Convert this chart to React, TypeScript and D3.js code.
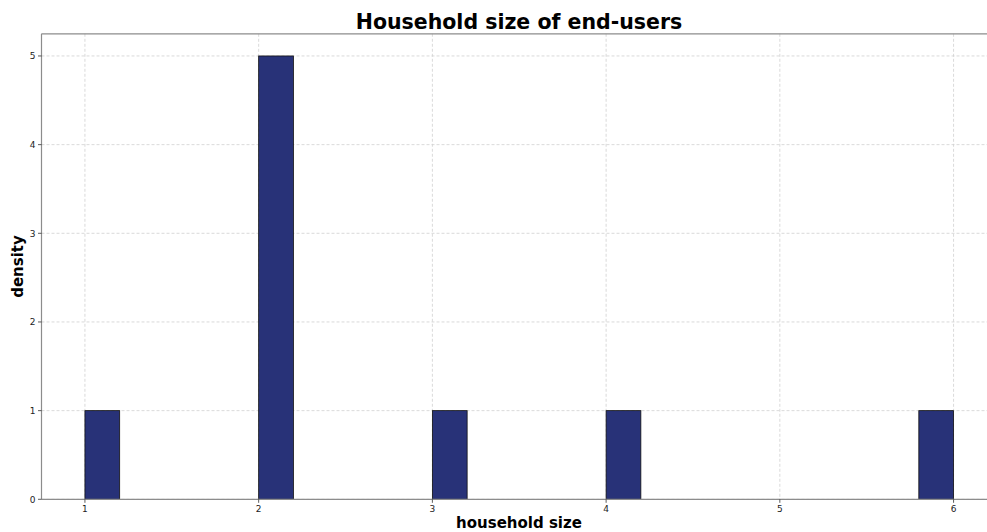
import * as d3 from "d3";

const WIDTH = 987;
const HEIGHT = 532;

// histogram bins (bin width 0.2)
const binStarts = [1, 2, 3, 4, 5.8];
const binCounts = [1, 5, 1, 1, 1];
const BIN_WIDTH = 0.2;

const xTicks = [1, 2, 3, 4, 5, 6];
const yTicks = [0, 1, 2, 3, 4, 5];

const FONT = "DejaVu Sans, sans-serif";
const SPINE = "#8c8c8c";
const GRID = "#d0d0d0";
const BAR = "#283278";

export default function App() {
  const xScale = d3.scaleLinear().domain([0.75, 6.25]).range([41.5, 997]);
  const yScale = d3.scaleLinear().domain([0, 5.25]).range([499.3, 33.8]);

  const [x0, x1] = xScale.range();
  const [y0, y1] = yScale.range();

  return (
    <svg
      width={WIDTH}
      height={HEIGHT}
      style={{ position: "fixed", left: 0, top: 0, background: "#fff" }}
      fontFamily={FONT}
    >
      {/* grid */}
      {xTicks.map((t) => (
        <line
          key={"gx" + t}
          x1={xScale(t)}
          x2={xScale(t)}
          y1={y1}
          y2={y0}
          stroke={GRID}
          strokeDasharray="3,2"
          strokeWidth={0.8}
        />
      ))}
      {yTicks.map((t) => (
        <line
          key={"gy" + t}
          x1={x0}
          x2={x1}
          y1={yScale(t)}
          y2={yScale(t)}
          stroke={GRID}
          strokeDasharray="3,2"
          strokeWidth={0.8}
        />
      ))}

      {/* bars */}
      {binStarts.map((s, i) => (
        <rect
          key={i}
          x={xScale(s)}
          y={yScale(binCounts[i])}
          width={xScale(s + BIN_WIDTH) - xScale(s)}
          height={yScale(0) - yScale(binCounts[i])}
          fill={BAR}
          stroke="#111"
          strokeWidth={0.8}
        />
      ))}

      {/* spines */}
      <line x1={x0} x2={x0} y1={y1} y2={y0} stroke={SPINE} strokeWidth={1.2} />
      <line x1={x0} x2={x1} y1={y0} y2={y0} stroke={SPINE} strokeWidth={1.2} />
      <line x1={x0} x2={x1} y1={y1} y2={y1} stroke={SPINE} strokeWidth={1.2} />

      {/* x ticks */}
      {xTicks.map((t) => (
        <g key={"xt" + t}>
          <line x1={xScale(t)} x2={xScale(t)} y1={y0} y2={y0 + 3.5} stroke="#333" strokeWidth={0.8} />
          <text x={xScale(t)} y={y0 + 13} textAnchor="middle" fontSize={9} fill="#222">
            {t}
          </text>
        </g>
      ))}
      {/* y ticks */}
      {yTicks.map((t) => (
        <g key={"yt" + t}>
          <line x1={x0 - 3.5} x2={x0} y1={yScale(t)} y2={yScale(t)} stroke="#333" strokeWidth={0.8} />
          <text x={x0 - 6} y={yScale(t) + 3.2} textAnchor="end" fontSize={9} fill="#222">
            {t}
          </text>
        </g>
      ))}

      {/* labels */}
      <text x={519} y={29} textAnchor="middle" fontSize={20.5} fontWeight="bold" fill="#000">
        Household size of end-users
      </text>
      <text x={519} y={528} textAnchor="middle" fontSize={15} fontWeight="bold" fill="#000">
        household size
      </text>
      <text
        transform={`translate(23, ${(y0 + y1) / 2}) rotate(-90)`}
        textAnchor="middle"
        fontSize={15}
        fontWeight="bold"
        fill="#000"
      >
        density
      </text>
    </svg>
  );
}
